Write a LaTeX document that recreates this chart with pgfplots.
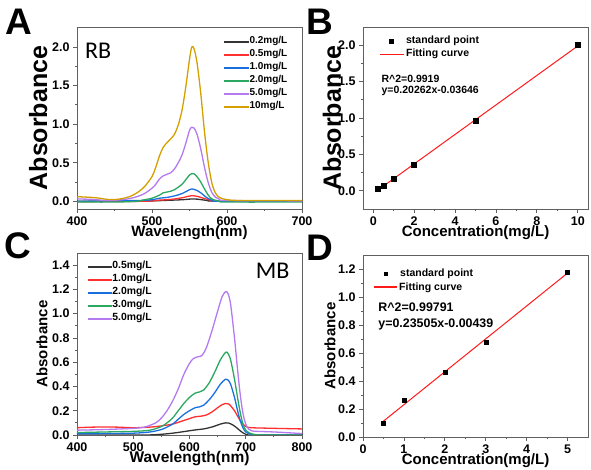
\documentclass[border=0pt]{standalone}
\usepackage{pgfplots}
\pgfplotsset{compat=1.18}
\usepackage{fontspec}
\setmainfont{Liberation Sans}
\newfontfamily\carlito{Carlito}
\definecolor{cBlack}{HTML}{333333}
\definecolor{cRed}{HTML}{FF3030}
\definecolor{cBlue}{HTML}{1A6FE0}
\definecolor{cGreen}{HTML}{2AA860}
\definecolor{cPurple}{HTML}{B57AF0}
\definecolor{cGold}{HTML}{D4A000}
\definecolor{fitred}{HTML}{FF1A1A}
\definecolor{axgray}{HTML}{606060}
\tikzset{fitline/.style={draw=fitred, line width=1.1pt, shorten <=0pt, shorten >=0pt}, sqmark/.style={draw=black, line width=5pt, shorten <=9.5pt, shorten >=9.5pt}, sqmarkD/.style={draw=black, line width=4pt, shorten <=10pt, shorten >=10pt}}
\newcommand{\fs}[1]{\fontsize{#1}{#1}\selectfont}
\pgfplotsset{
  panel/.style={
    scale only axis, width=225pt, height=182pt, anchor=south west,
    axis line style={axgray, line width=0.9pt},
    every tick/.style={axgray, line width=0.8pt},
    tick align=outside, major tick length=4pt, minor tick length=2.2pt,
    xtick pos=lower, ytick pos=left,
    minor x tick num=1, minor y tick num=1,
    /pgf/number format/assume math mode=true,
    tick label style={font=\bfseries\fs{12.5}, black},
    every axis y label/.style={at={(axis description cs:#1,0.5)}, rotate=90, anchor=center, inner sep=0pt},
    legend cell align=left,
  },
  xlab/.style={every axis x label/.style={at={(axis description cs:0.5,#1)}, anchor=center, inner sep=0pt}},
  spec/.style={line width=1.3pt, smooth, no marks},
  fitlegend/.style={legend style={draw=none, fill=none, at={(axis description cs:#1)}, anchor=north west,
    font=\bfseries\fs{10.5}, row sep=0pt, inner sep=0pt,
    nodes={inner sep=0pt, text height=8.5pt, text depth=4.5pt}},
    legend image code/.code={\draw[##1] (0pt,0pt) -- (24pt,0pt);}},
}
\begin{document}
\begin{tikzpicture}
\path[use as bounding box] (0pt,0pt) rectangle (591pt,470pt);
% ---------------- A
\begin{axis}[panel=-0.173, at={(77pt,261pt)}, xlab=-0.13,
  xmin=400, xmax=700, ymin=-0.1, ymax=2.26,
  xtick={400,500,600,700}, ytick={0,0.5,1,1.5,2},
  yticklabel style={/pgf/number format/.cd, fixed, fixed zerofill, precision=1},
  xlabel={\bfseries\fs{15}Wavelength(nm)},
  ylabel={\bfseries\fs{25}Absorbance},
  legend style={draw=none, fill=none, at={(axis description cs:0.649,0.955)}, anchor=north west,
    font=\bfseries\fs{10}, row sep=0pt, inner sep=0pt,
    nodes={inner sep=0pt, text height=8.5pt, text depth=4.5pt}},
  legend image code/.code={\draw[#1, line width=1.3pt] (0pt,0pt) -- (25pt,0pt);},
]
\addplot[spec, cBlack] coordinates {(400,0.0)(480,0.0)(500,0.005)(520,0.012)(540,0.02)(553,0.03)(560,0.028)(570,0.015)(580,0.005)(590,0.0)(700,0.0)};
\addlegendentry{0.2mg/L}
\addplot[spec, cRed] coordinates {(400,-0.005)(490,0.0)(510,0.015)(520,0.02)(530,0.03)(540,0.045)(550,0.068)(553,0.072)(560,0.065)(570,0.035)(580,0.01)(590,0.0)(700,0.0)};
\addlegendentry{0.5mg/L}
\addplot[spec, cBlue] coordinates {(400,0.0)(480,0.01)(500,0.02)(510,0.04)(520,0.05)(530,0.07)(540,0.1)(550,0.15)(553,0.16)(556,0.155)(560,0.14)(565,0.11)(570,0.07)(575,0.035)(580,0.015)(590,0.0)(700,0.0)};
\addlegendentry{1.0mg/L}
\addplot[spec, cGreen] coordinates {(400,-0.01)(450,-0.01)(480,0.0)(490,0.02)(500,0.04)(510,0.08)(515,0.11)(520,0.12)(525,0.13)(530,0.15)(540,0.22)(545,0.28)(550,0.34)(553,0.36)(556,0.355)(560,0.32)(565,0.25)(570,0.16)(575,0.08)(580,0.03)(590,0.0)(600,-0.01)(700,-0.01)};
\addlegendentry{2.0mg/L}
\addplot[spec, cPurple] coordinates {(400,0.03)(420,0.025)(440,0.01)(460,0.02)(470,0.035)(480,0.06)(490,0.1)(500,0.17)(505,0.22)(510,0.29)(515,0.33)(520,0.35)(525,0.37)(530,0.42)(535,0.5)(540,0.6)(545,0.75)(550,0.92)(553,0.96)(556,0.95)(560,0.87)(565,0.68)(570,0.44)(575,0.24)(580,0.11)(585,0.05)(590,0.025)(600,0.01)(700,0.005)};
\addlegendentry{5.0mg/L}
\addplot[spec, cGold] coordinates {(400,0.06)(410,0.055)(420,0.05)(430,0.04)(440,0.025)(450,0.022)(460,0.035)(470,0.06)(480,0.11)(490,0.19)(500,0.32)(505,0.44)(510,0.59)(515,0.70)(520,0.76)(525,0.81)(530,0.87)(535,0.99)(540,1.18)(545,1.48)(550,1.84)(553,2.0)(556,1.98)(560,1.80)(565,1.40)(570,0.90)(575,0.50)(580,0.23)(585,0.10)(590,0.05)(600,0.02)(620,0.01)(700,0.01)};
\addlegendentry{10mg/L}
\node[anchor=west, font=\carlito\fs{24}] at (axis description cs:0.02,0.87) {RB};
\end{axis}
% ---------------- B
\begin{axis}[panel=-0.138, at={(363pt,261pt)}, xlab=-0.13,
  xmin=-0.5, xmax=10.5, ymin=-0.25, ymax=2.25,
  xtick={0,2,4,6,8,10}, ytick={0,0.5,1,1.5,2},
  yticklabel style={/pgf/number format/.cd, fixed, fixed zerofill, precision=1},
  xlabel={\bfseries\fs{15}Concentration(mg/L)},
  ylabel={\bfseries\fs{25}Absorbance},
  fitlegend={0.062,0.955},
]
\addlegendimage{sqmark}
\addlegendentry{standard point}
\addlegendimage{fitline}
\addlegendentry{Fitting curve}
\addplot[only marks, mark=square*, mark size=2.5pt, black, forget plot]
  coordinates {(0.2,0.03)(0.5,0.07)(1,0.16)(2,0.36)(5,0.96)(10,2.0)};
\addplot[fitred, line width=1pt, no marks, forget plot]
  coordinates {(0.2,0.0041)(10,1.9897)};
\node[anchor=west, font=\bfseries\fs{10.5}] at (axis description cs:0.067,0.714) {R\^{}2=0.9919};
\node[anchor=west, font=\bfseries\fs{10.5}] at (axis description cs:0.067,0.648) {y=0.20262x-0.03646};
\end{axis}
% ---------------- C
\begin{axis}[panel=-0.156, at={(77pt,35pt)}, xlab=-0.13,
  xmin=400, xmax=800, ymin=0, ymax=1.5,
  xtick={400,500,600,700,800}, ytick={0,0.2,0.4,0.6,0.8,1.0,1.2,1.4},
  yticklabel style={/pgf/number format/.cd, fixed, fixed zerofill, precision=1},
  xlabel={\bfseries\fs{15.5}Wavelength(nm)},
  ylabel={\bfseries\fs{15}Absorbance},
  legend style={draw=none, fill=none, at={(axis description cs:0.044,0.96)}, anchor=north west,
    font=\bfseries\fs{10.4}, row sep=0pt, inner sep=0pt,
    nodes={inner sep=0pt, text height=8.5pt, text depth=4.5pt}},
  legend image code/.code={\draw[#1, line width=1.3pt] (0pt,0pt) -- (24pt,0pt);},
]
\addplot[spec, cBlack] coordinates {(400,0.0)(520,0.0)(550,0.006)(570,0.015)(590,0.028)(600,0.035)(612,0.043)(625,0.05)(640,0.066)(655,0.09)(664,0.1)(670,0.098)(678,0.08)(685,0.055)(690,0.035)(695,0.018)(700,0.006)(710,0.0)(800,0.0)};
\addlegendentry{0.5mg/L}
\addplot[spec, cRed] coordinates {(400,0.06)(430,0.065)(470,0.065)(500,0.06)(530,0.065)(550,0.075)(570,0.09)(590,0.12)(600,0.135)(610,0.15)(620,0.155)(630,0.165)(640,0.19)(650,0.225)(658,0.25)(664,0.26)(670,0.255)(675,0.23)(680,0.2)(685,0.16)(690,0.12)(695,0.09)(700,0.07)(710,0.06)(750,0.055)(800,0.05)};
\addlegendentry{1.0mg/L}
\addplot[spec, cBlue] coordinates {(400,0.01)(450,0.012)(500,0.015)(530,0.025)(550,0.045)(560,0.065)(570,0.09)(580,0.13)(590,0.17)(600,0.2)(610,0.225)(618,0.232)(625,0.245)(635,0.29)(645,0.35)(655,0.42)(664,0.46)(668,0.455)(673,0.42)(680,0.31)(685,0.21)(690,0.12)(695,0.06)(700,0.025)(710,0.005)(730,0.0)(800,0.0)};
\addlegendentry{2.0mg/L}
\addplot[spec, cGreen] coordinates {(400,0.02)(450,0.025)(500,0.03)(530,0.04)(550,0.07)(560,0.1)(570,0.14)(580,0.2)(590,0.26)(600,0.31)(610,0.345)(618,0.355)(625,0.37)(635,0.43)(645,0.52)(655,0.62)(664,0.68)(668,0.675)(673,0.62)(680,0.46)(685,0.32)(690,0.19)(695,0.09)(700,0.04)(710,0.01)(730,0.0)(800,0.0)};
\addlegendentry{3.0mg/L}
\addplot[spec, cPurple] coordinates {(400,0.04)(450,0.045)(500,0.055)(520,0.065)(540,0.1)(550,0.14)(560,0.2)(570,0.28)(580,0.38)(590,0.5)(600,0.59)(607,0.63)(615,0.645)(622,0.655)(630,0.72)(640,0.86)(650,1.02)(658,1.14)(664,1.18)(668,1.17)(673,1.08)(680,0.8)(685,0.56)(690,0.34)(695,0.18)(700,0.09)(705,0.05)(710,0.035)(720,0.03)(750,0.025)(800,0.012)};
\addlegendentry{5.0mg/L}
\node[anchor=center, font=\carlito\fs{24}] at (axis description cs:0.87,0.9) {MB};
\end{axis}
% ---------------- D
\begin{axis}[panel=-0.147, at={(363pt,33pt)}, xlab=-0.128,
  xmin=0, xmax=5.5, ymin=0, ymax=1.3,
  xtick={0,1,2,3,4,5}, ytick={0,0.2,0.4,0.6,0.8,1.0,1.2},
  yticklabel style={/pgf/number format/.cd, fixed, fixed zerofill, precision=1},
  xlabel={\bfseries\fs{15}Concentration(mg/L)},
  ylabel={\bfseries\fs{15}Absorbance},
  fitlegend={0.04,0.93},
]
\addlegendimage{sqmarkD}
\addlegendentry{standard point}
\addplot[only marks, mark=square*, mark size=2pt, black, forget plot]
  coordinates {(0.5,0.10)(1,0.26)(2,0.46)(3,0.68)(5,1.18)};
\addplot[fitred, line width=1pt, no marks, forget plot]
  coordinates {(0.5,0.1132)(5,1.1709)};
\draw[fitline] (axis description cs:0.049,0.824) -- (axis description cs:0.151,0.824);
\node[anchor=west, inner sep=0pt, font=\bfseries\fs{10.5}] at (axis description cs:0.16,0.822) {Fitting curve};
\node[anchor=west, font=\bfseries\fs{12.4}] at (axis description cs:0.053,0.714) {R\^{}2=0.99791};
\node[anchor=west, font=\bfseries\fs{12.4}] at (axis description cs:0.053,0.621) {y=0.23505x-0.00439};
\end{axis}
% panel letters
\node[font=\bfseries\fs{37}] at (19pt,448pt) {A};
\node[font=\bfseries\fs{37}] at (320pt,448pt) {B};
\node[font=\bfseries\fs{37}] at (18pt,224pt) {C};
\node[font=\bfseries\fs{37}] at (320pt,222pt) {D};
\end{tikzpicture}
\end{document}
